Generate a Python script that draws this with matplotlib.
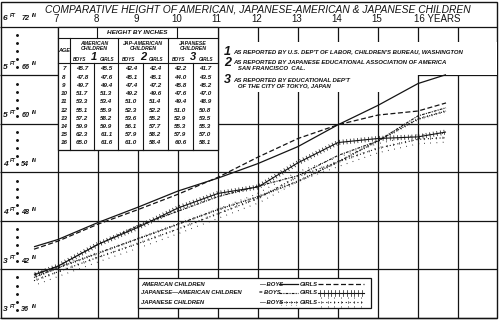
import matplotlib
matplotlib.use("Agg")
import matplotlib.pyplot as plt
import matplotlib.patheffects as pe
from matplotlib.patches import Rectangle
from matplotlib.lines import Line2D

# heights in inches, from the table printed in the chart
ages = [7, 8, 9, 10, 11, 12, 13, 14, 15, 16]
american_boys = [45.7, 47.8, 49.7, 51.7, 53.3, 55.1, 57.2, 59.9, 62.3, 65.0]
american_girls = [45.5, 47.6, 49.4, 51.3, 53.4, 55.9, 58.2, 59.9, 61.1, 61.6]
jap_am_boys = [42.4, 45.1, 47.4, 49.2, 51.0, 52.3, 53.6, 56.1, 57.9, 61.0]
jap_am_girls = [42.4, 45.1, 47.2, 49.6, 51.4, 52.2, 55.2, 57.7, 58.2, 58.4]
japanese_boys = [42.2, 44.0, 45.8, 47.6, 49.4, 51.0, 52.9, 55.3, 57.9, 60.6]
japanese_girls = [41.7, 43.5, 45.2, 47.0, 48.9, 50.8, 53.5, 55.3, 57.0, 58.1]

# the drawn curves run a bit past the table at both ends
lead_age, tail_age = 6.4, 16.7
lead = [44.8, 44.5, 41.4, 41.3, 41.0, 40.6]
tail = [66.1, 62.6, 62.0, 59.0, 61.6, 58.3]

grid_ages = list(range(7, 18))
age_labels = ["7", "8", "9", "10", "11", "12", "13", "14", "15", "16 YEARS"]
height_marks = [72, 66, 60, 54, 48, 42, 36]
height_feet = ["6", "5", "5", "4", "4", "3", "3"]

title = "COMPARATIVE HEIGHT OF AMERICAN, JAPANESE-AMERICAN & JAPANESE CHILDREN"
notes = [("1", ["AS REPORTED BY U.S. DEP'T OF LABOR, CHILDREN'S BUREAU, WASHINGTON"]),
         ("2", ["AS REPORTED BY JAPANESE EDUCATIONAL ASSOCIATION OF AMERICA",
                "   SAN FRANCISCO  CAL."]),
         ("3", ["AS REPORTED BY EDUCATIONAL DEP'T",
                "   OF THE CITY OF TOKYO, JAPAN"])]
groups = ["AMERICAN\nCHILDREN", "JAP-AMERICAN\nCHILDREN", "JAPANESE\nCHILDREN"]
legend_rows = ["AMERICAN CHILDREN", "JAPANESE\u2014AMERICAN CHILDREN", "JAPANESE CHILDREN"]
legend_mid = ["\u2014 BOYS", "= BOYS", "\u2014 BOYS"]

FONT = ["Liberation Sans", "DejaVu Sans"]
INK = "#141414"
W, H = 500, 322


def P(px, py):
    # position in the 500x322 picture -> axes fraction
    return px / W, 1 - py / H


fig = plt.figure(figsize=(5.0, 3.22), dpi=100)
ax = fig.add_axes([0, 0, 1, 1])
ax.set_xlim(5.55, 18.05)
ax.set_ylim(35.49, 75.34)
ax.axis("off")
ta = ax.transAxes


def txt(px, py, s, size=4.4, ha="left", weight="bold", **kw):
    ax.text(*P(px, py), s, transform=ta, fontsize=size, ha=ha, va="center",
            family=FONT, style="italic", weight=weight, color=INK, zorder=6, **kw)


def seg(x0, y0, x1, y1, lw=0.8):
    ax.add_line(Line2D([x0 / W, x1 / W], [1 - y0 / H, 1 - y1 / H], transform=ta,
                       color=INK, lw=lw, zorder=5))


# grid
right = 5.55 + 497 / 40
ax.vlines(grid_ages, 36, 72, color=INK, lw=0.9, zorder=1)
ax.hlines([72, 54, 48, 42, 36], 5.55, right, color=INK, lw=0.9, zorder=1)
ax.hlines([66, 60], 5.55, 7, color=INK, lw=0.9, zorder=1)
ax.hlines(66, 16, right, color=INK, lw=0.9, zorder=1)
ax.hlines(60, 11, right, color=INK, lw=0.9, zorder=1)
ax.add_patch(Rectangle(P(1, 318), 496 / W, 316 / H, transform=ta, fill=False,
                       ec=INK, lw=1.0, zorder=1))

# blank areas for the notes
ax.add_patch(Rectangle(P(219.5, 75), 277 / W, 33 / H, transform=ta, fc="white",
                       ec="none", zorder=2))
ax.add_patch(Rectangle(P(219.5, 92), 190 / W, 20 / H, transform=ta, fc="white",
                       ec="none", zorder=2))

# axis labels
ax.text(0.515, P(0, 9)[1], title, transform=ta, ha="center", va="center",
        fontsize=7.4, family=FONT, style="italic", color=INK)
xt = ax.get_xaxis_transform()
for a, lab in zip(grid_ages, age_labels):
    if "Y" in lab:
        ax.text(a - 0.1, P(0, 19)[1], lab, transform=xt, ha="left", va="center",
                fontsize=7, family=FONT, color=INK, zorder=6)
    else:
        ax.text(a - 0.04, P(0, 19)[1], lab, transform=xt, ha="center", va="center",
                fontsize=7, family=FONT, color=INK, zorder=6)
for h, ft in zip(height_marks, height_feet):
    base = h + 0.6
    for dx, s, size, up in ((0.0, ft, 6.0, 0.0), (0.17, "FT", 3.5, 0.55),
                            (0.46, str(h), 5.2, 0.0), (0.74, "IN", 3.5, 0.55)):
        ax.text(5.62 + dx, base + up, s, fontsize=size, family=FONT, style="italic",
                weight="bold", color=INK, va="bottom", ha="left", zorder=6)
dots = [h for h in range(37, 72) if h % 6]
ax.plot([5.975] * len(dots), dots, ls="none", marker="o", ms=1.1, color=INK, zorder=6)

# table
ax.add_patch(Rectangle(P(58, 150), 160 / W, 123 / H, transform=ta, fc="white",
                       ec=INK, lw=0.9, zorder=4))
seg(58, 38, 218, 38)
seg(97, 27, 97, 38)
seg(177, 27, 177, 38)
txt(137, 32.5, "HEIGHT BY INCHES", size=4.6, ha="center")
seg(58, 63, 218, 63)
for x in (70, 118, 168):
    seg(x, 38, x, 150)
for x in (94, 143, 193):
    seg(x, 63, x, 150)
txt(64, 51, "AGE", size=4.0, ha="center")
for i, (gx, g) in enumerate(zip((94, 143, 193), groups)):
    txt(gx, 46, g, size=3.8, ha="center", linespacing=1.1)
    txt(gx - 14, 59.5, "BOYS", size=3.4, ha="center")
    txt(gx + 13, 59.5, "GIRLS", size=3.4, ha="center")
    txt(gx, 56.5, str(i + 1), size=8, ha="center")
cols = [american_boys, american_girls, jap_am_boys, jap_am_girls,
        japanese_boys, japanese_girls]
col_x = [82, 106.5, 131, 155.5, 180.5, 205]
for r, a in enumerate(ages):
    py = 69 + r * 8.2
    txt(64, py, str(a), size=4.5, ha="center")
    for cx, col in zip(col_x, cols):
        txt(cx, py, f"{col[r]:.1f}", size=4.5, ha="center")

# notes
for (num, lines), py in zip(notes, (52, 63, 80)):
    txt(224, py, num, size=9)
    for k, line in enumerate(lines):
        txt(233, py + k * 6, line, size=4.3)

# curves
styles = [dict(ls="-", lw=0.9),
          dict(ls=(0, (4, 2)), lw=0.9),
          dict(ls=(0, (2.5, 1, 1, 1)), lw=0.8),
          dict(ls="-", lw=0.8, path_effects=[
              pe.withTickedStroke(spacing=2.6, angle=90, length=0.7, linewidth=0.5),
              pe.TickedStroke(spacing=2.6, angle=-90, length=0.7, linewidth=0.5)]),
          dict(ls=(0, (1, 1.2)), lw=0.8, path_effects=[
              pe.withTickedStroke(spacing=3, angle=90, length=0.6, linewidth=0.5),
              pe.TickedStroke(spacing=3, angle=-90, length=0.6, linewidth=0.5)]),
          dict(ls=(0, (1, 2.5)), lw=0.8, path_effects=[
              pe.withTickedStroke(spacing=4.5, angle=90, length=0.8, linewidth=0.5),
              pe.TickedStroke(spacing=4.5, angle=-90, length=0.8, linewidth=0.5)])]
for col, st, l0, l1 in zip(cols, styles, lead, tail):
    ax.plot([lead_age] + ages + [tail_age], [l0] + col + [l1], color=INK,
            zorder=3, solid_capstyle="butt", **st)

# legend box
ax.add_patch(Rectangle(P(138, 308), 233 / W, 30 / H, transform=ta, fc="white",
                       ec=INK, lw=0.9, zorder=4))
for k, (name, mid) in enumerate(zip(legend_rows, legend_mid)):
    py = 284 + k * 9
    txt(141, py, name, size=4.2)
    txt(259, py, mid, size=4.2)
    txt(300, py, "GIRLS", size=4.2)
    bx = [279 / W, 298 / W]
    gx = [318 / W, 364 / W]
    yy = [1 - py / H] * 2
    for xs, st in ((bx, styles[2 * k]), (gx, styles[2 * k + 1])):
        ax.add_line(Line2D(xs, yy, transform=ta, color=INK, zorder=6, **st))

fig.savefig("out.png", dpi=100, facecolor="white")
